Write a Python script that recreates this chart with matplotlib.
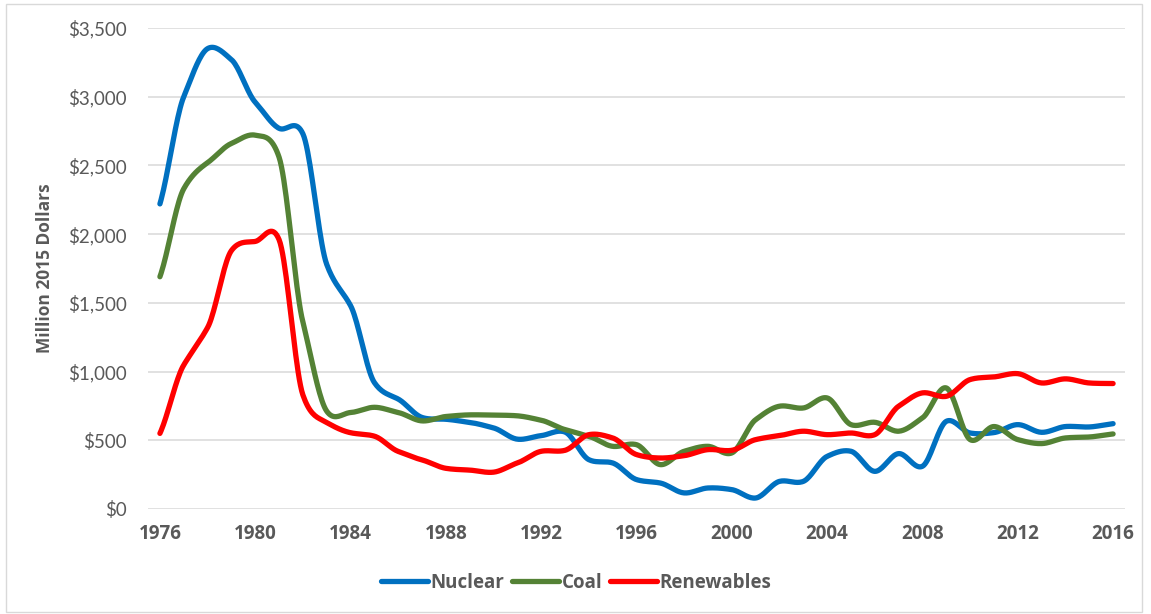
import numpy as np
import matplotlib
matplotlib.use("Agg")
import matplotlib.pyplot as plt
from matplotlib.patches import Rectangle
from matplotlib.lines import Line2D

years = list(range(1976, 2017))
nuclear = [2220, 3000, 3350, 3270, 2960, 2770, 2730, 1780, 1480, 920, 800, 666, 653, 630,
           590, 508, 534, 560, 359, 335, 214, 189, 117, 153, 141, 80, 201, 201, 383, 420,
           274, 403, 311, 638, 553, 556, 614, 558, 600, 597, 621]
coal = [1690, 2330, 2520, 2660, 2720, 2560, 1360, 712, 702, 740, 702, 641, 673, 685,
        683, 678, 646, 578, 529, 456, 468, 323, 420, 456, 408, 650, 748, 735, 808, 614,
        631, 566, 663, 881, 505, 600, 505, 476, 517, 524, 546]
renewables = [550, 1048, 1320, 1880, 1947, 1960, 830, 630, 555, 530, 419, 357, 296, 283,
              268, 335, 420, 427, 541, 517, 396, 371, 388, 432, 427, 505, 534, 566, 541, 553,
              541, 748, 845, 820, 942, 961, 985, 917, 947, 917, 913]
series_names = ["Nuclear", "Coal", "Renewables"]
series_colors = ["#0070C0", "#548235", "#FF0000"]
yticks = [0, 500, 1000, 1500, 2000, 2500, 3000, 3500]
xticks = list(range(1976, 2017, 4))

FONT = ["Lato", "DejaVu Sans"]
BOLD = ["Open Sans", "DejaVu Sans"]


def smooth(x, y, n=20, k=0.75):
    """Cardinal spline through the data points (Excel 'smoothed line' look)."""
    x = np.asarray(x, float)
    y = np.asarray(y, float)
    m = np.zeros_like(y)
    m[1:-1] = k * (y[2:] - y[:-2]) / 2.0
    m[0] = k * (y[1] - y[0])
    m[-1] = k * (y[-1] - y[-2])
    t = np.linspace(0, 1, n, endpoint=False)
    h00 = 2 * t ** 3 - 3 * t ** 2 + 1
    h10 = t ** 3 - 2 * t ** 2 + t
    h01 = -2 * t ** 3 + 3 * t ** 2
    h11 = t ** 3 - t ** 2
    ox, oy = [], []
    for i in range(len(x) - 1):
        ox.append(x[i] + t * (x[i + 1] - x[i]))
        oy.append(h00 * y[i] + h10 * m[i] + h01 * y[i + 1] + h11 * m[i + 1])
    ox.append([x[-1]])
    oy.append([y[-1]])
    return np.concatenate(ox), np.concatenate(oy)


fig = plt.figure(figsize=(11.51, 6.14), dpi=100)
fig.patches.append(Rectangle((6 / 1151, 2 / 614), 1136 / 1151, 608 / 614, transform=fig.transFigure,
                             fill=False, edgecolor="#D9D9D9", linewidth=1))
ax = fig.add_axes([148 / 1151, 1 - 509 / 614, (1125 - 148) / 1151, (509 - 28) / 614])

for name, vals, col in zip(series_names, [nuclear, coal, renewables], series_colors):
    sx, sy = smooth(years, vals)
    ax.plot(sx, sy, color=col, linewidth=3.8, solid_capstyle="round", label=name, zorder=3)

ax.set_xlim(1975.5, 2016.5)
ax.set_ylim(0, 3500)
ax.set_yticks(yticks)
ax.set_yticklabels([f"${v:,}" for v in yticks], fontsize=13.5, color="#595959", family=FONT)
ax.set_xticks(xticks)
ax.set_xticklabels([str(v) for v in xticks], fontsize=13.5, color="#595959", fontweight="bold",
                   family=BOLD)
ax.tick_params(axis="both", length=0)
ax.tick_params(axis="x", pad=11)
ax.tick_params(axis="y", pad=15)
ax.grid(axis="y", color="#D9D9D9", linewidth=1.1)
ax.set_axisbelow(True)
for s in ["top", "right", "left", "bottom"]:
    ax.spines[s].set_visible(False)

fig.text(45 / 1151, 1 - 268 / 614, "Million 2015 Dollars", rotation=90, ha="center", va="center",
         fontsize=12.5, fontweight="bold", color="#595959", family=BOLD)

handles = [Line2D([0], [0], color=c, linewidth=3.8, solid_capstyle="round") for c in series_colors]
leg = fig.legend(handles, series_names, loc="center", bbox_to_anchor=(576 / 1151, 1 - 583 / 614),
                 ncol=3, frameon=False, handlelength=2.5, handletextpad=0.15, columnspacing=0.4,
                 prop={"family": BOLD, "weight": "bold", "size": 13.5})
for t in leg.get_texts():
    t.set_color("#595959")

fig.savefig("out.png", dpi=100)
